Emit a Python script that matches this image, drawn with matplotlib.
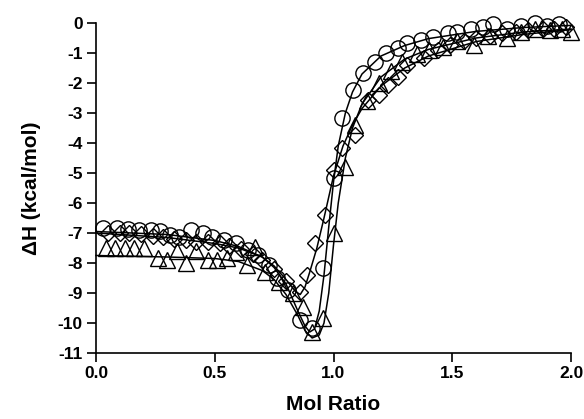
import matplotlib
matplotlib.use("Agg")
import matplotlib.pyplot as plt

plt.rcParams['font.family'] = ['Liberation Sans', 'DejaVu Sans']
plt.rcParams['font.weight'] = 'bold'

# circles
circ_x = [0.03, 0.09, 0.135, 0.18, 0.23, 0.27, 0.31, 0.35, 0.40, 0.45, 0.49, 0.54, 0.59, 0.64,
          0.68, 0.73, 0.76, 0.81, 0.86, 0.91, 0.956, 1.00, 1.035, 1.08, 1.125, 1.175, 1.22, 1.27,
          1.31, 1.37, 1.42, 1.48, 1.52, 1.58, 1.63, 1.67, 1.73, 1.79, 1.85, 1.90, 1.95]
circ_y = [-6.85, -6.85, -6.88, -6.9, -6.9, -6.92, -7.07, -7.13, -6.9, -7.0, -7.13, -7.23, -7.35, -7.57,
          -7.73, -8.07, -8.5, -8.9, -9.9, -10.17, -8.17, -5.17, -3.17, -2.23, -1.67, -1.3, -1.0, -0.83,
          -0.67, -0.57, -0.47, -0.35, -0.3, -0.2, -0.15, -0.05, -0.2, -0.1, 0.0, -0.1, -0.05]

# diamonds
diam_x = [0.05, 0.10, 0.14, 0.19, 0.24, 0.28, 0.33, 0.38, 0.42, 0.47, 0.52, 0.56, 0.61, 0.66,
          0.70, 0.75, 0.80, 0.86, 0.89, 0.92, 0.964, 1.00, 1.035, 1.09, 1.145, 1.19, 1.23, 1.27,
          1.31, 1.38, 1.44, 1.49, 1.55, 1.60, 1.66, 1.71, 1.77, 1.82, 1.88, 1.93, 1.98]
diam_y = [-7.0, -7.0, -7.0, -7.05, -7.1, -7.15, -7.2, -7.25, -7.3, -7.3, -7.35, -7.45, -7.55, -7.7,
          -7.9, -8.2, -8.6, -8.97, -8.4, -7.33, -6.4, -4.9, -4.17, -3.73, -2.57, -2.4, -2.07, -1.8,
          -1.4, -1.17, -0.9, -0.75, -0.6, -0.5, -0.45, -0.35, -0.3, -0.25, -0.2, -0.2, -0.15]

# triangles
tri_x = [0.04, 0.08, 0.12, 0.16, 0.20, 0.26, 0.30, 0.34, 0.38, 0.42, 0.47, 0.51, 0.55, 0.59,
         0.635, 0.67, 0.71, 0.77, 0.83, 0.87, 0.91, 0.956, 1.00, 1.05, 1.09, 1.14, 1.19, 1.24,
         1.29, 1.35, 1.40, 1.46, 1.52, 1.59, 1.65, 1.73, 1.79, 1.85, 1.91, 1.96, 2.00]
tri_y = [-7.5, -7.5, -7.5, -7.5, -7.5, -7.83, -7.9, -7.6, -8.0, -7.6, -7.9, -7.9, -7.83, -7.63,
         -8.07, -7.47, -8.3, -8.63, -9.0, -9.47, -10.3, -9.83, -7.0, -4.8, -3.4, -2.6, -2.0, -1.6,
         -1.3, -1.05, -0.9, -0.8, -0.6, -0.73, -0.45, -0.5, -0.3, -0.2, -0.25, -0.2, -0.3]

# fitted curves
fit_c_x = [0.0, 0.3, 0.5, 0.6, 0.7, 0.75, 0.8, 0.85, 0.88, 0.9, 0.92, 0.94, 0.96, 0.98, 1.0,
           1.02, 1.05, 1.08, 1.12, 1.2, 1.3, 1.4, 1.6, 1.8, 2.0]
fit_c_y = [-6.95, -7.05, -7.25, -7.45, -7.8, -8.15, -8.7, -9.6, -10.1, -10.3, -10.2, -9.6, -8.4,
           -6.8, -5.3, -4.1, -3.0, -2.3, -1.7, -1.1, -0.75, -0.52, -0.28, -0.15, -0.08]

fit_d_x = [0.0, 0.3, 0.5, 0.6, 0.7, 0.75, 0.8, 0.84, 0.86, 0.88, 0.9, 0.93, 0.96, 1.0, 1.04,
           1.08, 1.12, 1.2, 1.3, 1.4, 1.6, 1.8, 2.0]
fit_d_y = [-7.0, -7.15, -7.35, -7.5, -7.8, -8.1, -8.55, -8.95, -9.05, -8.8, -8.3, -7.5, -6.5,
           -5.1, -4.1, -3.4, -2.85, -2.1, -1.5, -1.1, -0.62, -0.38, -0.22]

fit_t_x = [0.0, 0.3, 0.5, 0.6, 0.7, 0.75, 0.8, 0.85, 0.88, 0.91, 0.94, 0.96, 0.98, 1.0, 1.02,
           1.05, 1.08, 1.12, 1.2, 1.3, 1.4, 1.6, 1.8, 2.0]
fit_t_y = [-7.75, -7.8, -7.85, -7.95, -8.25, -8.55, -9.05, -9.75, -10.25, -10.5, -10.4, -10.0,
           -9.0, -7.4, -6.0, -4.5, -3.5, -2.7, -1.8, -1.2, -0.88, -0.5, -0.3, -0.2]

fig = plt.figure(figsize=(5.84, 4.19), dpi=100)
ax = fig.add_axes([96 / 584, 1 - 353 / 419, 475 / 584, 330 / 419])

for fx, fy in [(fit_c_x, fit_c_y), (fit_d_x, fit_d_y), (fit_t_x, fit_t_y)]:
    ax.plot(fx, fy, color='black', lw=1.1, clip_on=False, zorder=3)

mk = dict(linestyle='none', markerfacecolor='none', markeredgecolor='black',
          markeredgewidth=1.0, clip_on=False, zorder=4)
ax.plot(circ_x, circ_y, marker='o', markersize=11, **mk)
ax.plot(diam_x, diam_y, marker='D', markersize=8, **mk)
ax.plot(tri_x, tri_y, marker='^', markersize=11, **mk)

ax.set_xlim(0, 2.0)
ax.set_ylim(-11, 0)
ax.set_xticks([0.0, 0.5, 1.0, 1.5, 2.0])
ax.set_xticklabels(['0.0', '0.5', '1.0', '1.5', '2.0'])
ax.set_yticks(range(-11, 1))
ax.set_yticklabels([str(v) for v in range(-11, 1)])

for s in ['top', 'right']:
    ax.spines[s].set_visible(False)
for s in ['left', 'bottom']:
    ax.spines[s].set_linewidth(1.2)
ax.tick_params(direction='out', length=6.5, width=1.2, labelsize=12.5, pad=3)
for lab in ax.get_xticklabels() + ax.get_yticklabels():
    lab.set_fontweight('bold')

ax.set_xlabel('Mol Ratio', fontsize=15, fontweight='bold', labelpad=10)
ax.set_ylabel('ΔH (kcal/mol)', fontsize=15, fontweight='bold', labelpad=12)

fig.savefig('out.png', dpi=100)
